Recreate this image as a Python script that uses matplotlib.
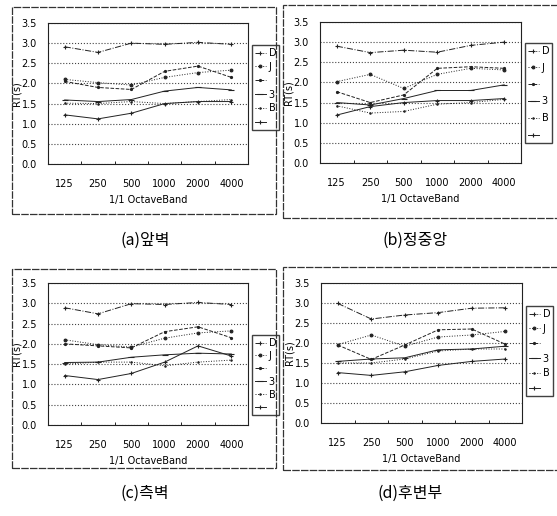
import matplotlib
matplotlib.use('Agg')
import matplotlib.pyplot as plt
from matplotlib.patches import Rectangle

bands = ['125', '250', '500', '1000', '2000', '4000']
labels = ['D', 'J', ' ', '3', 'B', ' ']
yticks = [0.0, 0.5, 1.0, 1.5, 2.0, 2.5, 3.0, 3.5]

# RT (s) per series, one list per panel
front = [
    [2.91, 2.77, 3.00, 2.97, 3.02, 2.97],
    [2.10, 2.02, 1.96, 2.15, 2.27, 2.33],
    [2.05, 1.90, 1.85, 2.30, 2.43, 2.15],
    [1.59, 1.55, 1.60, 1.81, 1.90, 1.84],
    [1.51, 1.50, 1.55, 1.50, 1.55, 1.60],
    [1.22, 1.12, 1.26, 1.50, 1.55, 1.55],
]
center = [
    [2.90, 2.74, 2.80, 2.75, 2.92, 3.00],
    [2.02, 2.20, 1.85, 2.20, 2.35, 2.31],
    [1.77, 1.50, 1.69, 2.35, 2.39, 2.35],
    [1.50, 1.44, 1.60, 1.80, 1.80, 1.94],
    [1.42, 1.24, 1.28, 1.46, 1.50, 1.58],
    [1.19, 1.40, 1.50, 1.55, 1.55, 1.60],
]
side = [
    [2.89, 2.74, 2.99, 2.97, 3.02, 2.97],
    [2.10, 1.98, 1.92, 2.14, 2.27, 2.32],
    [2.00, 1.95, 1.90, 2.30, 2.42, 2.15],
    [1.54, 1.55, 1.67, 1.73, 1.77, 1.75],
    [1.50, 1.55, 1.55, 1.46, 1.55, 1.60],
    [1.22, 1.12, 1.27, 1.55, 1.95, 1.70],
]
rear = [
    [2.99, 2.60, 2.70, 2.76, 2.87, 2.88],
    [1.96, 2.20, 1.92, 2.15, 2.20, 2.29],
    [1.95, 1.59, 1.95, 2.33, 2.35, 1.97],
    [1.54, 1.60, 1.63, 1.83, 1.85, 1.92],
    [1.50, 1.50, 1.60, 1.80, 1.85, 1.85],
    [1.26, 1.19, 1.28, 1.44, 1.54, 1.60],
]
captions = ['(a)앞벽', '(b)정중앙', '(c)측벽', '(d)후변부']

styles = [
    dict(ls='-.', marker='+', ms=3),
    dict(ls=':', marker='o', ms=2),
    dict(ls='--', marker='.', ms=3),
    dict(ls='-', marker='_', ms=4),
    dict(ls=':', marker='.', ms=2),
    dict(ls='-', marker='+', ms=3),
]

fig = plt.figure(figsize=(5.57, 5.16), dpi=100)
W, H = 557, 516

def fx(px):
    return px / W

def fy(py):
    return 1 - py / H

# outer frames (left, top, right, bottom in pixels)
frames = [(12, 7, 276, 214), (283, 5, 560, 218), (12, 269, 276, 468), (283, 267, 560, 470)]
for l, t, r, b in frames:
    fig.patches.append(Rectangle((fx(l), fy(b)), fx(r - l), (b - t) / H, transform=fig.transFigure,
                                 fill=False, lw=0.9, ec='#333333', ls=(0, (6, 1))))

# axes boxes (left, top, right, bottom in pixels)
boxes = [(48, 23, 248, 164), (320, 22, 521, 163), (48, 283, 248, 425), (321, 283, 522, 423)]
caption_pos = [(145, 240), (415, 240), (145, 493), (410, 493)]
legend_top = [45, 43, 335, 306]
legend_h = [0.4, 0.7, 0.3, 0.5]

for i, data in enumerate([front, center, side, rear]):
    l, t, r, b = boxes[i]
    ax = fig.add_axes([fx(l), fy(b), (r - l) / W, (b - t) / H])
    x = range(len(bands))
    for k, vals in enumerate(data):
        st = styles[k]
        ax.plot(x, vals, color='#222222', lw=0.7, ls=st['ls'], marker=st['marker'],
                ms=st['ms'], mew=0.8, label=labels[k])
    ax.set_xlim(-0.5, 5.5)
    ax.set_ylim(0, 3.5)
    ax.set_yticks(yticks)
    ax.set_yticklabels(['%.1f' % v for v in yticks], fontsize=7)
    ax.set_xticks(list(x))
    ax.set_xticklabels(bands, fontsize=7)
    ax.tick_params(axis='x', length=0, pad=11)
    ax.tick_params(axis='y', length=0, pad=8)
    ax.set_xticks([0.5, 1.5, 2.5, 3.5, 4.5], minor=True)
    ax.tick_params(axis='x', which='minor', direction='in', length=2)
    ax.grid(axis='y', ls=':', color='#444444', lw=0.8)
    for s in ax.spines.values():
        s.set_linewidth(0.8)
        s.set_color('#222222')
    ax.set_ylabel('RT(s)', fontsize=7, labelpad=0)
    ax.set_xlabel('1/1 OctaveBand', fontsize=7, labelpad=4)
    top_ax = (b - legend_top[i]) / (b - t)
    leg = ax.legend(loc='upper left', bbox_to_anchor=(1.02, top_ax), fontsize=7, frameon=True,
                    handlelength=1.1, handletextpad=0.3, borderpad=0.3, labelspacing=legend_h[i],
                    borderaxespad=0, fancybox=False)
    leg.get_frame().set_edgecolor('#111111')
    leg.get_frame().set_linewidth(1.0)
    cx, cy = caption_pos[i]
    fig.text(fx(cx), fy(cy), captions[i], ha='center', va='center', fontsize=11.5,
             family=['Noto Sans CJK KR', 'DejaVu Sans'])

fig.savefig('out.png', dpi=100)
